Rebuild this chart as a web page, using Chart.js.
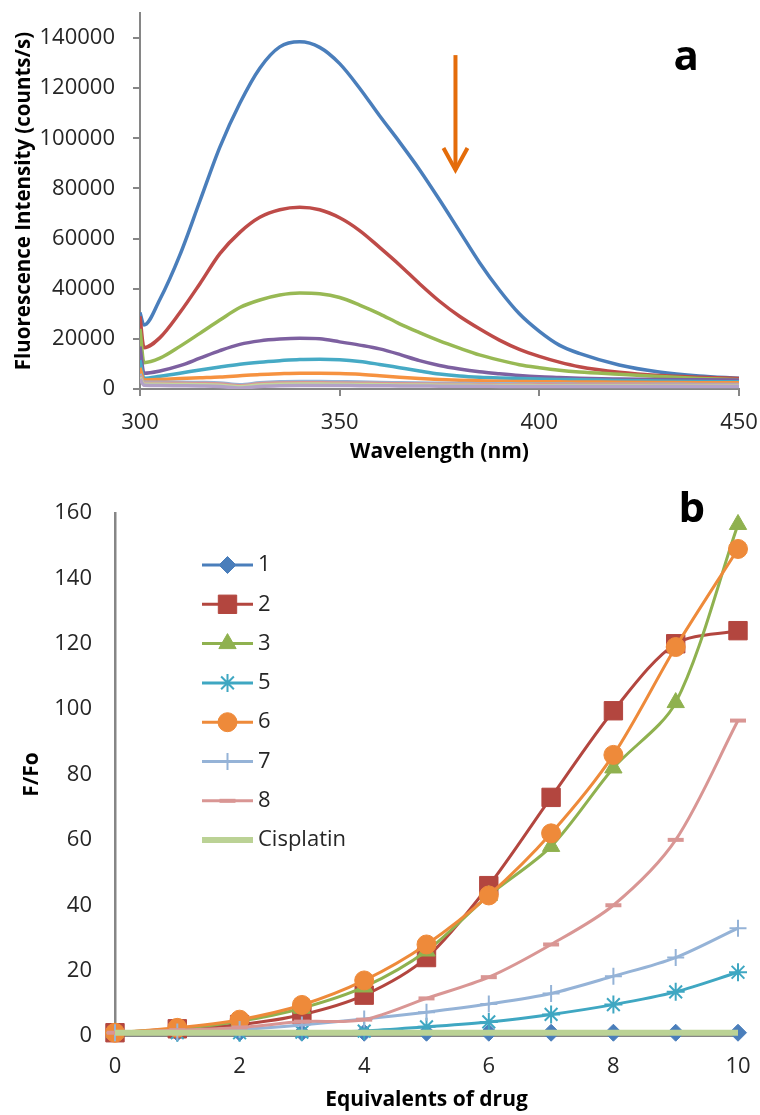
<!DOCTYPE html>
<html>
<head>
<meta charset="utf-8">
<script src="https://cdn.jsdelivr.net/npm/chart.js@4.4.1/dist/chart.umd.min.js"></script>
<style>
  html, body { margin: 0; padding: 0; background: #fff; }
  #wrapA { position: absolute; left: 0; top: 0; width: 760px; height: 470px; }
  #wrapB { position: absolute; left: 0; top: 470px; width: 760px; height: 645px; }
</style>
</head>
<body>
<div id="wrapA"><canvas id="chartA" width="760" height="470"></canvas></div>
<div id="wrapB"><canvas id="chartB" width="760" height="645"></canvas></div>
<script>
// ---- panel a: emission spectra ----
const wavelengths = [300, 301, 305, 310, 315, 320, 325, 330, 335, 340, 345, 350, 355, 360,
  365, 370, 375, 380, 385, 390, 395, 400, 405, 410, 420, 430, 440, 450];

const spec0 = [30500, 25500, 35800, 53500, 75000, 96500, 114000, 128000, 136500, 138500, 136300, 129800, 120000, 109000,
  98500, 87500, 75500, 63000, 50500, 39500, 30000, 23000, 17500, 14200, 9600, 6800, 5200, 4300];
const spec1 = [29000, 16500, 20500, 30500, 42000, 54000, 62500, 68500, 71500, 72500, 71500, 68300, 63200, 56500,
  49500, 42000, 35000, 29000, 24000, 19500, 15800, 13000, 10700, 8900, 6700, 5400, 4700, 4200];
const spec2 = [24000, 10500, 12300, 17000, 22200, 27500, 32500, 35500, 37500, 38300, 38000, 36500, 33500, 30000,
  26000, 22500, 19200, 16300, 13600, 11500, 9700, 8500, 7500, 6800, 5900, 5000, 4200, 3700];
const spec3 = [17000, 6300, 7200, 9300, 12300, 15300, 17800, 19200, 19900, 20200, 20000, 18800, 17500, 16000,
  13800, 11300, 9400, 8000, 6900, 6100, 5400, 4900, 4600, 4300, 4000, 3800, 3700, 3600];
const spec4 = [11500, 4300, 5100, 6300, 7600, 8800, 9900, 10700, 11300, 11800, 11900, 11700, 11000, 9800,
  8500, 7200, 6000, 5200, 4700, 4400, 4200, 4000, 3800, 3700, 3400, 3200, 3000, 2900];
const spec5 = [8500, 3600, 3800, 4200, 4500, 4800, 5300, 5800, 6100, 6300, 6300, 6200, 5900, 5300,
  4700, 4200, 3800, 3500, 3300, 3100, 3000, 2900, 2850, 2800, 2700, 2600, 2500, 2500];
const spec6 = [6000, 2700, 2700, 2700, 2600, 2400, 1700, 2500, 2900, 3000, 3000, 2900, 2800, 2600,
  2500, 2400, 2300, 2200, 2100, 2100, 2000, 2000, 2000, 1900, 1900, 1900, 1800, 1800];
const spec7 = [5200, 2300, 2300, 2300, 2200, 2000, 1300, 2100, 2400, 2500, 2500, 2400, 2300, 2200,
  2100, 2000, 1900, 1800, 1800, 1700, 1700, 1700, 1600, 1600, 1600, 1500, 1500, 1500];
const spec8 = [4600, 1900, 1900, 1800, 1700, 1500, 900, 1600, 1900, 2000, 2000, 1900, 1800, 1700,
  1600, 1600, 1500, 1500, 1400, 1400, 1400, 1300, 1300, 1300, 1300, 1200, 1200, 1200];
const spec9 = [4000, 1500, 1400, 1300, 1200, 1000, 400, 1000, 1300, 1400, 1400, 1400, 1300, 1300,
  1200, 1200, 1100, 1100, 1100, 1000, 1000, 1000, 1000, 1000, 1000, 1000, 1000, 1000];

const intensityTicks = [0, 20000, 40000, 60000, 80000, 100000, 120000, 140000];
const wavelengthTicks = [300, 350, 400, 450];

// ---- panel b: F/Fo vs equivalents ----
const equivalents = [0, 1, 2, 3, 4, 5, 6, 7, 8, 9, 10];
const seriesNames = ['1', '2', '3', '5', '6', '7', '8', 'Cisplatin'];
const ratio1 = [1, 1, 1, 1, 1, 1, 1, 1, 1, 1, 1];
const ratio2 = [1, 2.2, 3.5, 6.5, 12.5, 24, 46, 73, 99.5, 120, 124];
const ratio3 = [1, 2.2, 4.5, 8.5, 15, 26, 43, 58, 82, 102, 156.5];
const ratio5 = [1, 1, 1, 1.2, 1.5, 2.8, 4.3, 6.6, 9.6, 13.5, 19.5];
const ratio6 = [1, 2.5, 5, 9.5, 17, 28, 43, 62, 86, 119, 149];
const ratio7 = [1, 1.2, 2, 3.4, 5.2, 7.3, 9.8, 13, 18.3, 24, 33];
const ratio8 = [1, 1.8, 2.6, 4.4, 5, 11.5, 18, 28, 40, 60, 96.5];
const ratioCis = [1, 1, 1, 1, 1, 1, 1, 1, 1, 1, 1];
const ratioTicks = [0, 20, 40, 60, 80, 100, 120, 140, 160];
const equivTicks = [0, 2, 4, 6, 8, 10];

const AXIS = '#868686';
const TXT = '#262626';
const FONT = 'Open Sans';

function toXY(xs, ys) {
  return xs.map((x, i) => ({ x: x, y: ys[i] }));
}

function fixedTicks(list) {
  return (axis) => { axis.ticks = list.map(v => ({ value: v })); };
}

// pin the box size and drop the label overflow padding, so the plot area sits where the margins say
function pinSize(w, h) {
  return (s) => {
    if (w !== null) s.width = w;
    if (h !== null) s.height = h;
    s.paddingTop = 0;
    s.paddingBottom = 0;
    s.paddingLeft = 0;
    s.paddingRight = 0;
  };
}

// big bold panel letter, placed in data coordinates
const panelLabel = {
  id: 'panelLabel',
  afterDraw(chart, args, opts) {
    const { ctx, scales } = chart;
    ctx.save();
    ctx.font = 'bold 42px "' + FONT + '"';
    ctx.fillStyle = '#000';
    ctx.textAlign = 'center';
    ctx.textBaseline = 'alphabetic';
    ctx.fillText(opts.text, scales.x.getPixelForValue(opts.x), scales.y.getPixelForValue(opts.y));
    ctx.restore();
  }
};

// orange arrow in panel a
const arrowPlugin = {
  id: 'arrow',
  afterDraw(chart, args, opts) {
    if (!opts.color) return;
    const { ctx, scales } = chart;
    const x = scales.x.getPixelForValue(opts.x);
    const y0 = scales.y.getPixelForValue(opts.from);
    const y1 = scales.y.getPixelForValue(opts.to);
    ctx.save();
    ctx.strokeStyle = opts.color;
    ctx.lineWidth = 4;
    ctx.beginPath();
    ctx.moveTo(x, y0);
    ctx.lineTo(x, y1 - 2);
    ctx.stroke();
    ctx.lineJoin = 'miter';
    ctx.beginPath();
    ctx.moveTo(x - 12, y1 - 24);
    ctx.lineTo(x, y1 - 2);
    ctx.lineTo(x + 12, y1 - 24);
    ctx.stroke();
    ctx.restore();
  }
};

// legend drawn inside the plot area of panel b
const insideLegend = {
  id: 'insideLegend',
  afterDraw(chart, args, opts) {
    if (!opts.display) return;
    const { ctx, chartArea } = chart;
    ctx.save();
    chart.data.datasets.forEach((ds, i) => {
      const y = chartArea.top + opts.top + i * opts.spacing;
      const x0 = chartArea.left + opts.left;
      const x1 = x0 + opts.lineLength;
      ctx.strokeStyle = ds.borderColor;
      ctx.lineWidth = ds.borderWidth;
      ctx.beginPath();
      ctx.moveTo(x0, y);
      ctx.lineTo(x1, y);
      ctx.stroke();
      if (ds.pointRadius > 0 && Chart.helpers && Chart.helpers.drawPoint) {
        ctx.fillStyle = ds.pointBackgroundColor;
        ctx.strokeStyle = ds.pointBorderColor;
        ctx.lineWidth = ds.pointBorderWidth;
        Chart.helpers.drawPoint(ctx, {
          pointStyle: ds.pointStyle,
          radius: ds.pointRadius,
          rotation: 0,
          borderWidth: ds.pointBorderWidth
        }, (x0 + x1) / 2, y);
      }
      ctx.fillStyle = TXT;
      ctx.font = '22px "' + FONT + '"';
      ctx.textAlign = 'left';
      ctx.textBaseline = 'middle';
      ctx.fillText(ds.label, x1 + opts.gap, y);
    });
    ctx.restore();
  }
};

Chart.register(panelLabel, arrowPlugin, insideLegend);

// ---------- chart a ----------
const specSeries = [spec0, spec1, spec2, spec3, spec4, spec5, spec6, spec7, spec8, spec9];
const specColors = ['#4A7EBB', '#BE4B48', '#98B954', '#7D60A0', '#46AAC5', '#F69240',
  '#95B3D7', '#D99694', '#C3D69B', '#B3A2C7'];

const chartA = new Chart(document.getElementById('chartA'), {
  type: 'line',
  data: {
    datasets: specSeries.map((s, i) => ({
      label: 'spectrum ' + (i + 1),
      data: toXY(wavelengths, s),
      borderColor: specColors[i],
      borderWidth: 3.5,
      pointRadius: 0,
      cubicInterpolationMode: 'monotone',
      fill: false,
      order: specSeries.length - i
    }))
  },
  options: {
    responsive: false,
    animation: false,
    layout: { autoPadding: false, padding: { left: 0, right: 21, top: 13, bottom: 0 } },
    plugins: {
      legend: { display: false },
      tooltip: { enabled: false },
      panelLabel: { text: 'a', x: 436.75, y: 127250 },
      arrow: { color: '#E46C0A', x: 379, from: 133200, to: 86600 },
      insideLegend: { display: false }
    },
    scales: {
      x: {
        type: 'linear',
        min: 300,
        max: 450,
        afterBuildTicks: fixedTicks(wavelengthTicks),
        afterFit: pinSize(null, 81),
        grid: { display: true, drawOnChartArea: false, drawTicks: true, tickLength: 7, color: AXIS, lineWidth: 2 },
        border: { color: AXIS, width: 2 },
        ticks: { color: TXT, font: { family: FONT, size: 22 }, padding: 14, maxRotation: 0 },
        title: {
          display: true, text: 'Wavelength (nm)', color: '#000',
          font: { family: FONT, size: 21, weight: 'bold' }, padding: { top: 0, bottom: 5 }
        }
      },
      y: {
        type: 'linear',
        min: 0,
        max: 150000,
        afterBuildTicks: fixedTicks(intensityTicks),
        afterFit: pinSize(140, null),
        grid: { display: true, drawOnChartArea: false, drawTicks: true, tickLength: 7, color: AXIS, lineWidth: 2 },
        border: { color: AXIS, width: 2 },
        ticks: { color: TXT, font: { family: FONT, size: 22 }, padding: 18, callback: (v) => String(v) },
        title: {
          display: true, text: 'Fluorescence Intensity (counts/s)', color: '#000',
          font: { family: FONT, size: 20.5, weight: 'bold' }, padding: { top: 12, bottom: 0 }
        }
      }
    }
  }
});

// ---------- chart b ----------
const ratioSeries = [ratio1, ratio2, ratio3, ratio5, ratio6, ratio7, ratio8, ratioCis];
const ratioStyle = [
  { color: '#4A7EBB', point: 'rectRot', r: 8.5, bw: 1, fill: true },
  { color: '#B3463F', point: 'rect', r: 13, bw: 1, fill: true },
  { color: '#8FB14F', point: 'triangle', r: 10, bw: 1, fill: true },
  { color: '#3FA7C2', point: 'star', r: 9, bw: 2, fill: false },
  { color: '#EE8A3A', point: 'circle', r: 9.5, bw: 1, fill: true },
  { color: '#95B3D7', point: 'cross', r: 8.5, bw: 2, fill: false },
  { color: '#D99694', point: 'line', r: 8, bw: 4, fill: false },
  { color: '#BBD295', point: false, r: 0, bw: 0, fill: false }
];

const chartB = new Chart(document.getElementById('chartB'), {
  type: 'line',
  data: {
    datasets: ratioSeries.map((s, i) => {
      const st = ratioStyle[i];
      return {
        label: seriesNames[i],
        data: toXY(equivalents, s),
        borderColor: st.color,
        borderWidth: i === 7 ? 6 : 3,
        pointStyle: st.point,
        pointRadius: st.r,
        pointHoverRadius: st.r,
        pointBorderWidth: st.bw,
        pointBorderColor: st.color,
        pointBackgroundColor: st.fill ? st.color : 'rgba(0,0,0,0)',
        tension: 0.3,
        fill: false,
        clip: false,
        order: ratioSeries.length - i
      };
    })
  },
  options: {
    responsive: false,
    animation: false,
    layout: { autoPadding: false, padding: { left: 0, right: 22, top: 43, bottom: 0 } },
    plugins: {
      legend: { display: false },
      tooltip: { enabled: false },
      panelLabel: { text: 'b', x: 9.26, y: 157.2 },
      arrow: { color: null },
      insideLegend: { display: true, left: 87, top: 52, spacing: 39.3, lineLength: 51, gap: 5 }
    },
    scales: {
      x: {
        type: 'linear',
        min: 0,
        max: 10,
        afterBuildTicks: fixedTicks(equivTicks),
        afterFit: pinSize(null, 79),
        grid: { display: false, drawTicks: false },
        border: { color: AXIS, width: 2 },
        ticks: { color: TXT, font: { family: FONT, size: 22 }, padding: 18, maxRotation: 0 },
        title: {
          display: true, text: 'Equivalents of drug', color: '#000',
          font: { family: FONT, size: 21, weight: 'bold' }, padding: { top: 0, bottom: 2 }
        }
      },
      y: {
        type: 'linear',
        min: 0,
        max: 160,
        afterBuildTicks: fixedTicks(ratioTicks),
        afterFit: pinSize(115, null),
        grid: { display: false, drawTicks: false },
        border: { color: AXIS, width: 2.5 },
        ticks: { color: TXT, font: { family: FONT, size: 22 }, padding: 23 },
        title: {
          display: true, text: 'F/Fo', color: '#000',
          font: { family: FONT, size: 21, weight: 'bold' }, padding: { top: 19, bottom: 0 }
        }
      }
    }
  }
});
</script>
</body>
</html>
